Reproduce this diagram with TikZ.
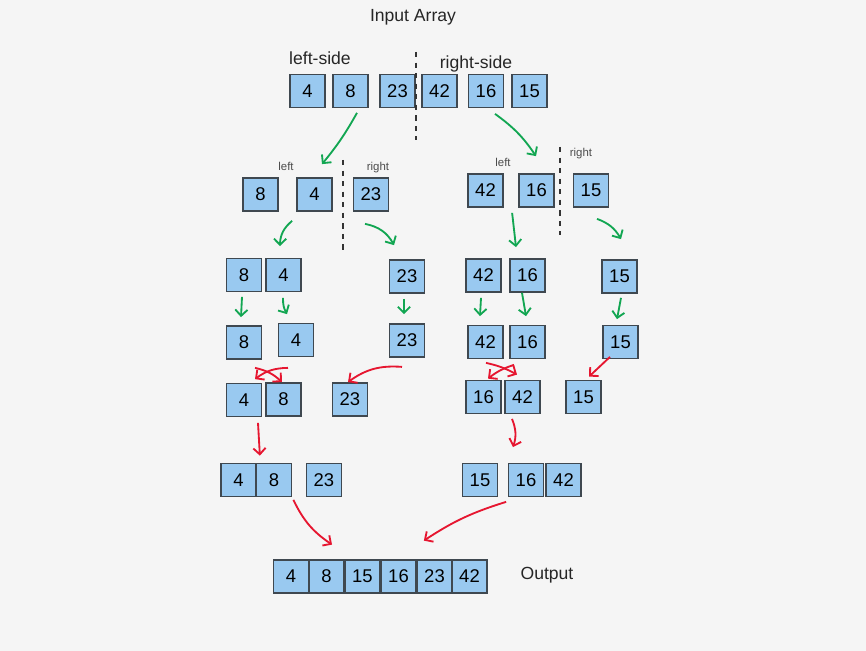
\documentclass[tikz,border=0pt]{standalone}
\usepackage{fontspec}
\setmainfont{Liberation Sans}
\usepackage{xcolor}
\usetikzlibrary{arrows.meta, positioning}
\usetikzlibrary{calc}

\definecolor{bgcol}{HTML}{F5F5F5}
\definecolor{cellfill}{HTML}{99C9F0}
\definecolor{celldraw}{HTML}{3F4850}
\definecolor{splitgreen}{RGB}{18,166,82}
\definecolor{mergered}{RGB}{230,22,48}

\begin{document}
\begin{tikzpicture}[x=0.02cm, y=0.02cm,
    cell/.style={draw=celldraw, fill=cellfill, line width=1pt, minimum width=0.7cm, minimum height=0.66cm, inner sep=0pt, font=\fontsize{10.5}{12}\selectfont},
    split/.style={-{Straight Barb[length=3.5pt,width=7pt]}, draw=splitgreen, line width=1.05pt},
    merge/.style={split, draw=mergered},
    note/.style={font=\fontsize{10}{12}\selectfont, text=black!85},
    tiny/.style={font=\fontsize{6.5}{8}\selectfont, text=black!70},
    divider/.style={dashed, line width=0.9pt, black!80}]
        % canvas
        \fill[bgcol] (0,0) rectangle (866,-651);
        \useasboundingbox (0,0) rectangle (866,-651);

        % input array
        \node[note] (title) at (413,-17) {Input Array};
        \node[note] (lside) at (320,-58) {left-side};
        \node[note] (rside) at (476,-64) {right-side};
        \node[cell] (in1) at (307.5,-91) {4};
        \node[cell] (in2) at (350.5,-91) {8};
        \node[cell] (in3) at (397.5,-91) {23};
        \node[cell] (in4) at (439.5,-91) {42};
        \node[cell] (in5) at (486,-91) {16};
        \node[cell] (in6) at (529.5,-91) {15};
        \draw[divider] (416,-52) -- (416,-140);

        % first split, left half
        \node[tiny] (lleft) at (286,-166) {left};
        \node[tiny] (lright) at (378,-168) {right};
        \node[cell] (l1) at (260.5,-194.5) {8};
        \node[cell] (l2) at (314.5,-194.5) {4};
        \node[cell] (l3) at (371,-194.5) {23};
        \draw[divider] (343,-160) -- (343,-250);

        % first split, right half
        \node[tiny] (rleft) at (503,-162) {left};
        \node[tiny] (rright) at (581,-154) {right};
        \node[cell] (r1) at (485.5,-190.5) {42};
        \node[cell] (r2) at (536.5,-190.5) {16};
        \node[cell] (r3) at (591,-190.5) {15};
        \draw[divider] (560,-147) -- (560,-235);

        % second split
        \node[cell] (p1) at (244,-275) {8};
        \node[cell] (p2) at (283.5,-275) {4};
        \node[cell] (p3) at (407,-276.5) {23};
        \node[cell] (p4) at (483.5,-275.5) {42};
        \node[cell] (p5) at (527.5,-275.5) {16};
        \node[cell] (p6) at (619.5,-276.5) {15};

        % single elements
        \node[cell] (s1) at (244,-342.5) {8};
        \node[cell] (s2) at (296,-340) {4};
        \node[cell] (s3) at (407,-340.5) {23};
        \node[cell] (s4) at (485.5,-342) {42};
        \node[cell] (s5) at (527.5,-342) {16};
        \node[cell] (s6) at (620.5,-342) {15};

        % first merge
        \node[cell] (m1) at (244,-400) {4};
        \node[cell] (m2) at (283.5,-399.5) {8};
        \node[cell] (m3) at (350,-399.5) {23};
        \node[cell] (m4) at (483.5,-397) {16};
        \node[cell] (m5) at (522.5,-397) {42};
        \node[cell] (m6) at (583.5,-397) {15};

        % second merge
        \node[cell] (j1) at (238.5,-480) {4};
        \node[cell] (j2) at (274,-480) {8};
        \node[cell] (j3) at (324,-480) {23};
        \node[cell] (j4) at (480,-480) {15};
        \node[cell] (j5) at (526,-480) {16};
        \node[cell] (j6) at (563.5,-480) {42};

        % output
        \node[cell] (o1) at (291,-576.5) {4};
        \node[cell] (o2) at (326.5,-576.5) {8};
        \node[cell] (o3) at (362.5,-576.5) {15};
        \node[cell] (o4) at (398.5,-576.5) {16};
        \node[cell] (o5) at (434.5,-576.5) {23};
        \node[cell] (o6) at (469.5,-576.5) {42};
        \node[note] (out) at (547,-575) {Output};

        % split arrows
        \draw[split] ($(in2.south)+(6.5,-4.5)$) to[bend left=5] ($(l2.north)+(7.5,13)$);
        \draw[split] ($(in5.south)+(9,-5.5)$) to[bend left=10] ($(r2.north)+(-0.5,17)$);
        \draw[split] ($(l2.south west)+(-4,-9)$) to[bend right=25] ($(p2.north)+(-3.5,11.5)$);
        \draw[split] ($(l3.south)+(-6,-12)$) to[bend left=25] ($(p3.north)+(-13,14)$);
        \draw[split] ($(r2.south west)+(-6,-5)$) -- ($(p5.north)+(-11.5,11)$);
        \draw[split] ($(r3.south)+(6,-11)$) to[bend left=20] ($(p6.north)+(1.5,20)$);
        \draw[split] ($(p1.south)+(-2,-4.5)$) -- ($(s1.north)+(-3,8)$);
        \draw[split] ($(p2.south)+(-0.5,-5.5)$) to[bend right=15] ($(s2.north)+(-9,8.5)$);
        \draw[split] ($(p3.south)+(-3,-5)$) -- ($(s3.north)+(-3,9)$);
        \draw[split] ($(p4.south)+(-2.5,-5)$) -- ($(s4.north)+(-5.5,8.5)$);
        \draw[split] ($(p5.south)+(-5.5,0)$) -- ($(s5.north)+(-1.5,8.5)$);
        \draw[split] ($(p6.south)+(1.5,-4)$) -- ($(s6.north)+(-3.5,5.5)$);

        % merge arrows
        \draw[merge] ($(s2.south)+(-8,-10.5)$) to[bend right=18] ($(m1.north)+(11,3.5)$);
        \draw[merge] ($(s1.south)+(11,-8)$) to[bend left=15] ($(m2.north)+(-1.5,0)$);
        \draw[merge] ($(s3.south)+(-5,-9)$) to[bend right=20] ($(m3.north)+(-2,0)$);
        \draw[merge] ($(s4.south)+(0.5,-3.5)$) to[bend left=8] ($(m5.north)+(-5.5,5)$);
        \draw[merge] ($(s5.south)+(-13.5,-5.5)$) to[bend right=10] ($(m4.north)+(4.5,1)$);
        \draw[merge] ($(s6.south)+(-10.5,2.5)$) -- ($(m6.north)+(5.5,3)$);
        \draw[merge] ($(m1.south)+(14,-5.5)$) -- ($(j1.north east)+(3,7)$);
        \draw[merge] ($(m5.south)+(-10.5,-4.5)$) to[bend left=20] ($(j5.north)+(-13,15.5)$);
        \draw[merge] ($(j2.south east)+(1,-2.5)$) to[bend right=15] ($(o2.north)+(5.5,14.5)$);
        \draw[merge] ($(j5.south west)+(-1.5,-4.5)$) to[bend right=8] ($(o4.north east)+(7,18.5)$);
\end{tikzpicture}
\end{document}
